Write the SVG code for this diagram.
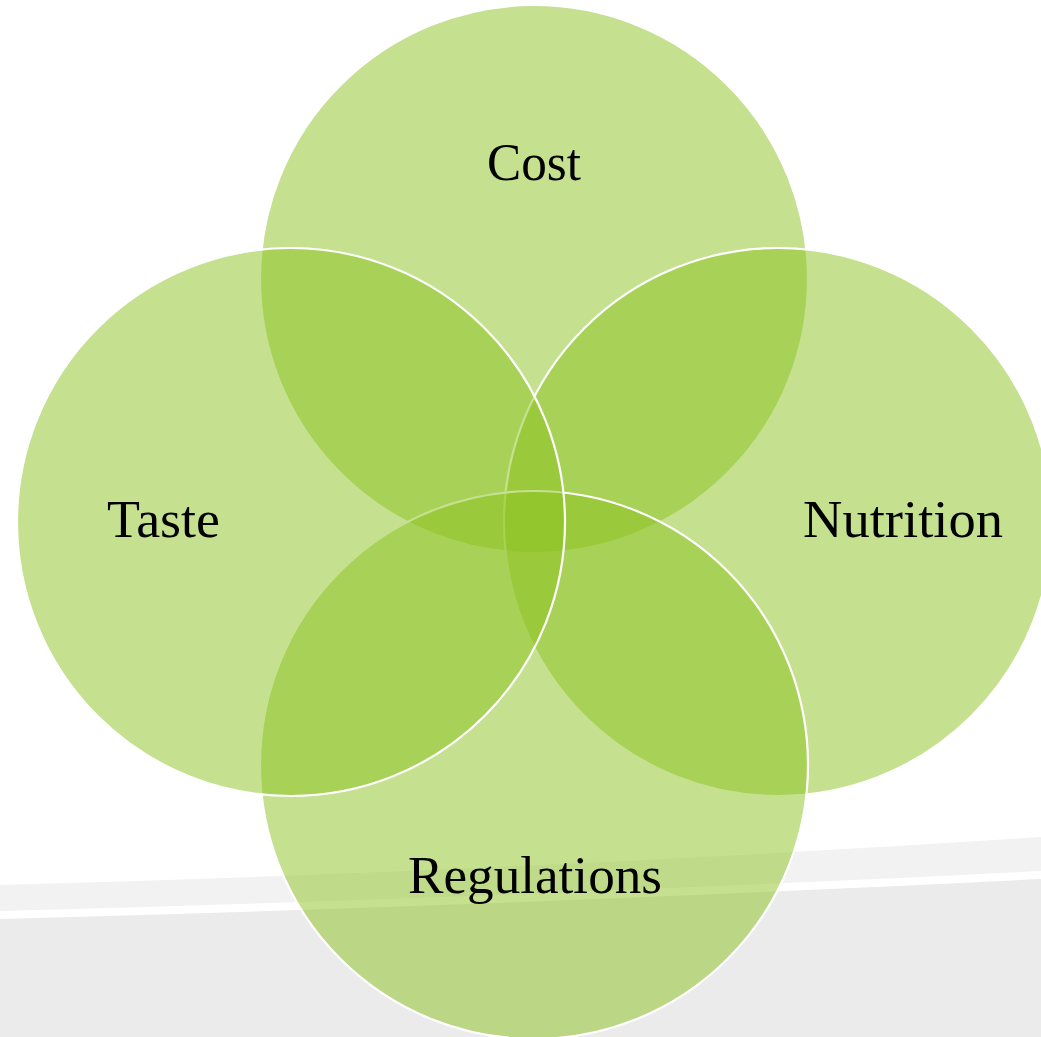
<svg xmlns="http://www.w3.org/2000/svg" width="1041" height="1037" viewBox="0 0 1041 1037">
  <style>
    .petal { fill: rgb(139,193,31); fill-opacity: 0.5; stroke: #ffffff; stroke-width: 2.2; }
    .label { font-family: "Liberation Serif", "DejaVu Serif", serif; font-size: 52px; fill: #000000; text-anchor: middle; }
  </style>
  <!-- page background with sweeping grey bands -->
  <rect x="0" y="0" width="1041" height="1037" fill="#ffffff"/>
  <path d="M0,885 Q520,871 1041,837 L1041,871 Q520,897 0,911 Z" fill="#f2f2f2"/>
  <path d="M0,919 Q520,905 1041,879 L1041,1037 L0,1037 Z" fill="#ebebeb"/>

  <g id="cost">
    <circle class="petal" cx="534" cy="279" r="274"/>
    <text class="label" x="534" y="180" textLength="94" lengthAdjust="spacingAndGlyphs">Cost</text>
  </g>
  <g id="nutrition">
    <circle class="petal" cx="778" cy="522" r="274"/>
    <text class="label" x="903" y="537" textLength="200" lengthAdjust="spacingAndGlyphs">Nutrition</text>
  </g>
  <g id="regulations">
    <circle class="petal" cx="534" cy="765" r="274"/>
    <text class="label" x="535" y="893" textLength="254" lengthAdjust="spacingAndGlyphs">Regulations</text>
  </g>
  <g id="taste">
    <circle class="petal" cx="291" cy="522" r="274"/>
    <text class="label" x="163.5" y="537" textLength="113" lengthAdjust="spacingAndGlyphs">Taste</text>
  </g>
  <g id="connectors"/>
</svg>
